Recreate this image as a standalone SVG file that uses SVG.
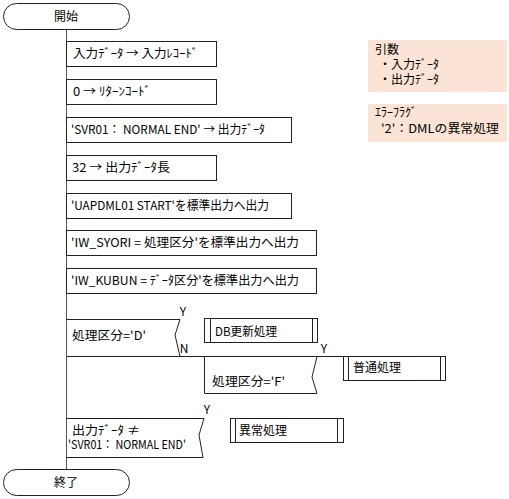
<svg xmlns="http://www.w3.org/2000/svg" width="509" height="499" viewBox="0 0 509 499">
<style>
text{font-family:"Noto Sans CJK JP","Noto Sans",sans-serif;font-size:12px;fill:#000}
.b{fill:#fff;stroke:#222;stroke-width:1}
.l{fill:none;stroke:#222;stroke-width:1}
.v{fill:none;stroke:#555;stroke-width:1}
.n{fill:#fbe4d5;stroke:none}
</style>
<g id="connectors">
<line class="v" x1="66.5" y1="29" x2="66.5" y2="470"/>
</g>
<g id="start">
<rect class="b" x="3.5" y="3.5" width="126" height="26" rx="13" ry="13"/>
<text x="66" y="21" text-anchor="middle">開始</text>
</g>
<g id="p1">
<rect class="b" x="66.5" y="41.5" width="150" height="25"/>
<text x="73" y="58" textLength="125" lengthAdjust="spacingAndGlyphs">入力ﾃﾞｰﾀ → 入力ﾚｺｰﾄﾞ</text>
</g>
<g id="p2">
<rect class="b" x="66.5" y="79.5" width="150" height="25"/>
<text x="73" y="96" textLength="78" lengthAdjust="spacingAndGlyphs">0 → ﾘﾀｰﾝｺｰﾄﾞ</text>
</g>
<g id="p3">
<rect class="b" x="66.5" y="117.5" width="225" height="25"/>
<text x="71" y="134" textLength="194" lengthAdjust="spacingAndGlyphs">'SVR01： NORMAL END' → 出力ﾃﾞｰﾀ</text>
</g>
<g id="p4">
<rect class="b" x="66.5" y="155.5" width="150" height="25"/>
<text x="72" y="172" textLength="98" lengthAdjust="spacingAndGlyphs">32 → 出力ﾃﾞｰﾀ長</text>
</g>
<g id="p5">
<rect class="b" x="66.5" y="193.5" width="225" height="25"/>
<text x="71" y="210" textLength="198" lengthAdjust="spacingAndGlyphs">'UAPDML01 START'を標準出力へ出力</text>
</g>
<g id="p6">
<rect class="b" x="66.5" y="230.5" width="250" height="25"/>
<text x="71" y="247" textLength="228" lengthAdjust="spacingAndGlyphs">'IW_SYORI = 処理区分'を標準出力へ出力</text>
</g>
<g id="p7">
<rect class="b" x="66.5" y="268.5" width="250" height="25"/>
<text x="71" y="285" textLength="228" lengthAdjust="spacingAndGlyphs">'IW_KUBUN = ﾃﾞｰﾀ区分'を標準出力へ出力</text>
</g>
<g id="d1">
<polyline class="l" points="66.5,319.5 180,319.5 175,335 180,356.5"/>
<line class="l" x1="66.5" y1="356.5" x2="445" y2="356.5"/>
<text x="72" y="340" textLength="74" lengthAdjust="spacingAndGlyphs">処理区分='D'</text>
<text x="183" y="316" text-anchor="middle">Y</text>
<text x="184" y="353" text-anchor="middle">N</text>
</g>
<g id="db">
<rect class="b" x="204.5" y="318.5" width="113" height="24"/>
<line class="l" x1="210.5" y1="318.5" x2="210.5" y2="342.5"/>
<line class="l" x1="312.5" y1="318.5" x2="312.5" y2="342.5"/>
<text x="215" y="336" textLength="62" lengthAdjust="spacingAndGlyphs">DB更新処理</text>
</g>
<g id="d2">
<polyline class="l" points="204.5,356.5 204.5,393.5 317,393.5 312,377 317,356.5"/>
<text x="212" y="386" textLength="73" lengthAdjust="spacingAndGlyphs">処理区分='F'</text>
<text x="324" y="353" text-anchor="middle">Y</text>
</g>
<g id="normal">
<rect class="b" x="343.5" y="356.5" width="102" height="24"/>
<line class="l" x1="348.5" y1="356.5" x2="348.5" y2="380.5"/>
<line class="l" x1="440.5" y1="356.5" x2="440.5" y2="380.5"/>
<text x="353" y="372">普通処理</text>
</g>
<g id="d3">
<polyline class="l" points="66.5,418.5 204,418.5 199,435 203,457.5 66.5,457.5"/>
<text x="72" y="435"><tspan x="72" y="435" textLength="68" lengthAdjust="spacingAndGlyphs">出力ﾃﾞｰﾀ ≠</tspan><tspan x="68" y="449" textLength="118" lengthAdjust="spacingAndGlyphs">'SVR01： NORMAL END'</tspan></text>
<text x="207" y="414" text-anchor="middle">Y</text>
</g>
<g id="error">
<rect class="b" x="230.5" y="418.5" width="113" height="24"/>
<line class="l" x1="235.5" y1="418.5" x2="235.5" y2="442.5"/>
<line class="l" x1="337.5" y1="418.5" x2="337.5" y2="442.5"/>
<text x="239" y="435">異常処理</text>
</g>
<g id="end">
<rect class="b" x="3.5" y="469.5" width="126" height="26" rx="13" ry="13"/>
<text x="66" y="487" text-anchor="middle">終了</text>
</g>
<g id="note1">
<rect class="n" x="368" y="40" width="139" height="52"/>
<text x="375" y="54"><tspan x="375" y="54">引数</tspan><tspan x="379" y="69">・入力ﾃﾞｰﾀ</tspan><tspan x="379" y="84">・出力ﾃﾞｰﾀ</tspan></text>
</g>
<g id="note2">
<rect class="n" x="368" y="104" width="139" height="38"/>
<text x="375" y="117"><tspan x="375" y="117">ｴﾗｰﾌﾗｸﾞ</tspan><tspan x="381" y="133" textLength="118" lengthAdjust="spacingAndGlyphs">'2'：DMLの異常処理</tspan></text>
</g>
</svg>
